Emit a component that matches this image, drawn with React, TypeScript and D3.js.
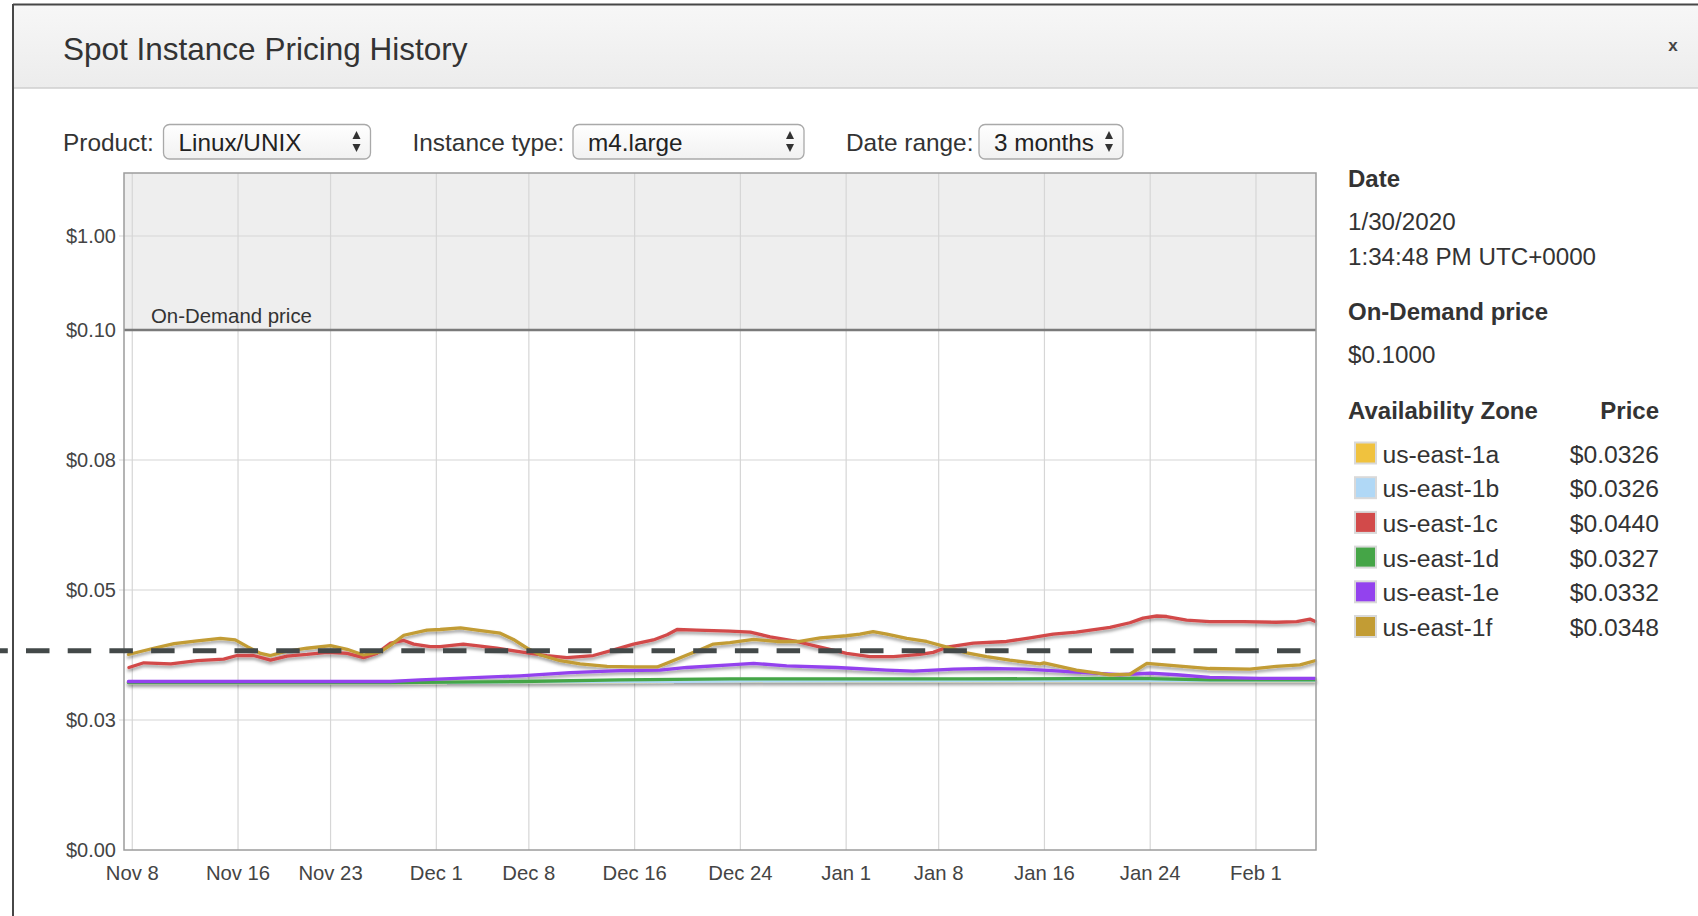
import React from 'react';
import * as d3 from 'd3';

const W = 1698;
const H = 916;

const zones = ['us-east-1a', 'us-east-1b', 'us-east-1c', 'us-east-1d', 'us-east-1e', 'us-east-1f'];
const zoneColors = ['#f0c23e', '#b0d8f6', '#d24a4a', '#45a547', '#9342ee', '#c29c34'];
const zonePrices = ['$0.0326', '$0.0326', '$0.0440', '$0.0327', '$0.0332', '$0.0348'];

// price history per zone: [UTC "date hour", price]
const east1a: [string, number][] = [
  ['2019-11-07 17', 0.0322], ['2019-11-27 13', 0.0322], ['2019-12-14 22', 0.0324],
  ['2019-12-24 00', 0.0325], ['2020-01-20 00', 0.0326], ['2020-02-05 11', 0.0326],
];
const east1b: [string, number][] = [
  ['2019-11-07 17', 0.0322], ['2019-11-27 13', 0.0322], ['2019-12-14 22', 0.0324],
  ['2019-12-24 00', 0.0325], ['2020-01-20 00', 0.0326], ['2020-02-05 11', 0.0326],
];
const east1c: [string, number][] = [
  ['2019-11-07 18', 0.0351], ['2019-11-08 21', 0.036], ['2019-11-10 22', 0.0358],
  ['2019-11-12 22', 0.0364], ['2019-11-14 22', 0.0367], ['2019-11-15 22', 0.0374],
  ['2019-11-17 04', 0.0374], ['2019-11-18 11', 0.0365], ['2019-11-19 17', 0.0373],
  ['2019-11-21 05', 0.0376], ['2019-11-22 18', 0.038], ['2019-11-24 06', 0.0378],
  ['2019-11-25 12', 0.037], ['2019-11-26 12', 0.0378], ['2019-11-27 13', 0.0398],
  ['2019-11-28 13', 0.0403], ['2019-11-29 07', 0.0396], ['2019-11-30 13', 0.0391],
  ['2019-12-01 07', 0.0391], ['2019-12-03 01', 0.0396], ['2019-12-04 08', 0.0392],
  ['2019-12-05 14', 0.0388], ['2019-12-07 21', 0.0379], ['2019-12-09 09', 0.0374],
  ['2019-12-10 21', 0.037], ['2019-12-12 21', 0.0374], ['2019-12-14 10', 0.0385],
  ['2019-12-15 22', 0.0396], ['2019-12-17 10', 0.0404], ['2019-12-18 11', 0.0414],
  ['2019-12-19 05', 0.0424], ['2019-12-20 17', 0.0423], ['2019-12-23 05', 0.0421],
  ['2019-12-24 18', 0.0419], ['2019-12-26 06', 0.041], ['2019-12-28 06', 0.0401],
  ['2019-12-30 01', 0.039], ['2020-01-01 01', 0.0378], ['2020-01-02 19', 0.0372],
  ['2020-01-04 14', 0.0372], ['2020-01-06 14', 0.0376], ['2020-01-07 14', 0.038],
  ['2020-01-08 15', 0.039], ['2020-01-10 15', 0.0398], ['2020-01-13 03', 0.0401],
  ['2020-01-14 22', 0.0408], ['2020-01-16 16', 0.0415], ['2020-01-18 10', 0.0419],
  ['2020-01-20 23', 0.0428], ['2020-01-22 11', 0.0437], ['2020-01-23 11', 0.0446],
  ['2020-01-24 12', 0.045], ['2020-01-25 06', 0.0449], ['2020-01-26 18', 0.0442],
  ['2020-01-28 12', 0.0439], ['2020-01-31 01', 0.0439], ['2020-02-02 13', 0.0438],
  ['2020-02-04 02', 0.0439], ['2020-02-05 02', 0.0444], ['2020-02-05 11', 0.044],
];
const east1d: [string, number][] = [
  ['2019-11-07 17', 0.0322], ['2019-11-27 13', 0.0322], ['2019-12-07 08', 0.0324],
  ['2019-12-14 22', 0.0327], ['2019-12-23 05', 0.0329], ['2020-01-10 00', 0.0329],
  ['2020-01-23 00', 0.033], ['2020-01-28 12', 0.0327], ['2020-02-05 11', 0.0327],
];
const east1e: [string, number][] = [
  ['2019-11-07 17', 0.0324], ['2019-11-27 13', 0.0324], ['2019-11-29 19', 0.0327],
  ['2019-12-07 08', 0.0335], ['2019-12-11 03', 0.0341], ['2019-12-14 22', 0.0345],
  ['2019-12-17 22', 0.0346], ['2019-12-19 23', 0.0351], ['2019-12-23 05', 0.0356],
  ['2019-12-25 00', 0.0359], ['2019-12-27 12', 0.0354], ['2019-12-31 07', 0.0351],
  ['2020-01-04 02', 0.0346], ['2020-01-06 02', 0.0344], ['2020-01-09 03', 0.0348],
  ['2020-01-11 15', 0.0349], ['2020-01-14 12', 0.0348], ['2020-01-15 22', 0.0346],
  ['2020-01-19 17', 0.034], ['2020-01-21 17', 0.0337], ['2020-01-24 00', 0.034],
  ['2020-01-26 00', 0.0337], ['2020-01-28 12', 0.0332], ['2020-02-01 07', 0.033],
  ['2020-02-05 11', 0.033],
];
const east1f: [string, number][] = [
  ['2019-11-07 17', 0.0376], ['2019-11-09 15', 0.0388], ['2019-11-11 04', 0.0397],
  ['2019-11-12 22', 0.0402], ['2019-11-14 16', 0.0407], ['2019-11-15 19', 0.0404],
  ['2019-11-16 17', 0.0391], ['2019-11-17 17', 0.0378], ['2019-11-18 11', 0.0374],
  ['2019-11-19 11', 0.0381], ['2019-11-21 05', 0.0388], ['2019-11-23 00', 0.0393],
  ['2019-11-24 06', 0.0386], ['2019-11-25 12', 0.0375], ['2019-11-26 18', 0.0381],
  ['2019-11-27 13', 0.0394], ['2019-11-28 13', 0.0413], ['2019-11-30 07', 0.0423],
  ['2019-12-01 07', 0.0424], ['2019-12-02 20', 0.0427], ['2019-12-04 02', 0.0423],
  ['2019-12-05 20', 0.0417], ['2019-12-06 20', 0.0405], ['2019-12-07 21', 0.0388],
  ['2019-12-08 21', 0.0375], ['2019-12-10 09', 0.0364], ['2019-12-11 21', 0.0358],
  ['2019-12-13 22', 0.0353], ['2019-12-15 22', 0.0352], ['2019-12-17 17', 0.0352],
  ['2019-12-18 17', 0.0362], ['2019-12-19 23', 0.0375], ['2019-12-20 23', 0.0385],
  ['2019-12-21 23', 0.0396], ['2019-12-23 05', 0.0399], ['2019-12-25 00', 0.0405],
  ['2019-12-26 18', 0.0401], ['2019-12-28 12', 0.0401], ['2019-12-30 01', 0.0408],
  ['2020-01-01 01', 0.0412], ['2020-01-02 01', 0.0415], ['2020-01-03 01', 0.042],
  ['2020-01-04 02', 0.0415], ['2020-01-05 14', 0.0407], ['2020-01-07 02', 0.0401],
  ['2020-01-08 15', 0.039], ['2020-01-10 03', 0.0379], ['2020-01-11 15', 0.0372],
  ['2020-01-13 09', 0.0365], ['2020-01-15 16', 0.0358], ['2020-01-15 23', 0.036],
  ['2020-01-18 10', 0.0346], ['2020-01-20 23', 0.0337], ['2020-01-22 11', 0.0338],
  ['2020-01-23 18', 0.0359], ['2020-01-26 00', 0.0354], ['2020-01-28 12', 0.0349],
  ['2020-01-31 13', 0.0348], ['2020-02-02 13', 0.0353], ['2020-02-04 08', 0.0356],
  ['2020-02-05 11', 0.0364],
];

const seriesData = [east1a, east1b, east1c, east1d, east1e, east1f];
// paint order: a, b, d, e, c, f
const drawOrder = [0, 1, 3, 4, 2, 5];

const dateRange = ['2019-11-07 09', '2020-02-05 13'];
const xTicks = [
  '2019-11-08', '2019-11-16', '2019-11-23', '2019-12-01', '2019-12-08', '2019-12-16',
  '2019-12-24', '2020-01-01', '2020-01-08', '2020-01-16', '2020-01-24', '2020-02-01',
];
const yTicks = [0, 0.025, 0.05, 0.075, 0.1, 1];
const yTickLabels = ['$0.00', '$0.03', '$0.05', '$0.08', '$0.10', '$1.00'];
const onDemandPrice = 0.1;
const hoverPrice = 0.0383;

const parseHour = d3.utcParse('%Y-%m-%d %H');
const parseDay = d3.utcParse('%Y-%m-%d');
const fmtTick = d3.utcFormat('%b %-d');

const FONT = '"Liberation Sans", Arial, Helvetica, sans-serif';

const SelectBox = ({ x, w, label }: { x: number; w: number; label: string }) => {
  const ax = x + w - 14;
  return (
    <g>
      <rect x={x} y={124.5} width={w} height={34.5} rx={6} fill="url(#selGrad)" stroke="#a9a9a9" strokeWidth={1.3} />
      <text x={x + 15} y={150.5} fontSize={24.3} fill="#222">{label}</text>
      <path d={`M${ax - 4},139 L${ax + 4},139 L${ax},131 Z`} fill="#333" />
      <path d={`M${ax - 4},144 L${ax + 4},144 L${ax},152 Z`} fill="#333" />
    </g>
  );
};

export default function App() {
  const left = 124;
  const right = 1316;
  const top = 173;
  const bottom = 850;

  const x = d3
    .scaleUtc()
    .domain(dateRange.map((d) => parseHour(d)!))
    .range([left, right]);

  // linear up to the on-demand price, compressed above it
  const y = d3.scaleLinear().domain([0, onDemandPrice, 1]).range([bottom, 330, 236]);

  const line = d3
    .line<[string, number]>()
    .x((d) => x(parseHour(d[0])!))
    .y((d) => y(d[1]));

  const rx = 1348;
  const priceRight = 1659;

  return (
    <div style={{ position: 'absolute', left: 0, top: 0 }}>
      <svg width={W} height={H} fontFamily={FONT} style={{ display: 'block' }}>
        <defs>
          <linearGradient id="headGrad" x1="0" y1="0" x2="0" y2="1">
            <stop offset="0" stopColor="#f7f7f7" />
            <stop offset="1" stopColor="#ececec" />
          </linearGradient>
          <linearGradient id="selGrad" x1="0" y1="0" x2="0" y2="1">
            <stop offset="0" stopColor="#ffffff" />
            <stop offset="1" stopColor="#f1f1f1" />
          </linearGradient>
          <filter id="shadow" x="-5%" y="-50%" width="110%" height="200%">
            <feDropShadow dx="0" dy="2.5" stdDeviation="1.4" floodColor="#000" floodOpacity="0.38" />
          </filter>
        </defs>

        <rect width={W} height={H} fill="#fff" />

        {/* modal frame + header */}
        <rect x={13} y={5} width={W} height={83} fill="url(#headGrad)" />
        <line x1={13} x2={W} y1={88} y2={88} stroke="#cfcfcf" strokeWidth={1.5} />
        <line x1={13} x2={W} y1={4.5} y2={4.5} stroke="#474747" strokeWidth={2} />
        <line x1={13} x2={13} y1={4} y2={H} stroke="#474747" strokeWidth={2} />
        <text x={63} y={60} fontSize={31.5} fill="#333">Spot Instance Pricing History</text>
        <text x={1673} y={51} fontSize={17} fontWeight="bold" fill="#444" textAnchor="middle">x</text>

        {/* controls */}
        <g fontSize={24.4} fill="#333">
          <text x={63} y={150.5}>Product:</text>
          <text x={412.5} y={150.5}>Instance type:</text>
          <text x={846} y={150.5}>Date range:</text>
        </g>
        <SelectBox x={163.5} w={207} label="Linux/UNIX" />
        <SelectBox x={573} w={231} label="m4.large" />
        <SelectBox x={979} w={144} label="3 months" />

        {/* plot background */}
        <rect x={left} y={top} width={right - left} height={y(onDemandPrice) - top} fill="#eeeeee" />

        {/* grid */}
        <g stroke="#d6d6d6" strokeWidth={1.2}>
          {xTicks.map((t) => {
            const px = x(parseDay(t)!);
            return <line key={t} x1={px} x2={px} y1={top} y2={bottom} />;
          })}
          {yTicks.filter((v) => v !== 0 && v !== onDemandPrice).map((v) => (
            <line key={v} x1={left - 5} x2={right} y1={y(v)} y2={y(v)} />
          ))}
        </g>

        {/* axis labels */}
        <g fontSize={20} fill="#444" textAnchor="end">
          {yTicks.map((v, i) => (
            <text key={v} x={116} y={y(v) + 7}>{yTickLabels[i]}</text>
          ))}
        </g>
        <g fontSize={20.3} fill="#444" textAnchor="middle">
          {xTicks.map((t) => (
            <text key={t} x={x(parseDay(t)!)} y={880}>{fmtTick(parseDay(t)!)}</text>
          ))}
        </g>

        {/* on-demand price line */}
        <line x1={left} x2={right} y1={y(onDemandPrice)} y2={y(onDemandPrice)} stroke="#7a7a7a" strokeWidth={2.5} />
        <text x={151} y={323} fontSize={20.4} fill="#333">On-Demand price</text>

        {/* series */}
        <g fill="none" strokeWidth={3.3} strokeLinejoin="round" strokeLinecap="round" filter="url(#shadow)">
          {drawOrder.map((i) => (
            <path key={zones[i]} d={line(seriesData[i]) || ''} stroke={zoneColors[i]} />
          ))}
        </g>

        {/* plot border */}
        <rect x={left} y={top} width={right - left} height={bottom - top} fill="none" stroke="#9c9c9c" strokeWidth={1.5} />

        {/* hover line */}
        <line
          x1={0}
          x2={right - 6}
          y1={y(hoverPrice)}
          y2={y(hoverPrice)}
          stroke="#434949"
          strokeWidth={5}
          strokeDasharray="23.5 18.2"
          strokeDashoffset={15.7}
        />

        {/* side panel */}
        <g fill="#333">
          <text x={rx} y={186.5} fontSize={24} fontWeight="bold">Date</text>
          <text x={rx} y={229.5} fontSize={24.2}>1/30/2020</text>
          <text x={rx} y={264.5} fontSize={24.2}>1:34:48 PM UTC+0000</text>
          <text x={rx} y={320} fontSize={24} fontWeight="bold">On-Demand price</text>
          <text x={rx} y={363} fontSize={24.2}>$0.1000</text>
          <text x={rx} y={419} fontSize={24} fontWeight="bold">Availability Zone</text>
          <text x={priceRight} y={419} fontSize={24} fontWeight="bold" textAnchor="end">Price</text>
          {zones.map((z, i) => {
            const base = 462.5 + i * 34.7;
            return (
              <g key={z}>
                <rect x={1355} y={base - 20} width={21} height={21} fill={zoneColors[i]} stroke="#d9d9d9" strokeWidth={2} />
                <text x={1382.5} y={base} fontSize={24.7}>{z}</text>
                <text x={priceRight} y={base} fontSize={24.7} textAnchor="end">{zonePrices[i]}</text>
              </g>
            );
          })}
        </g>
      </svg>
    </div>
  );
}
